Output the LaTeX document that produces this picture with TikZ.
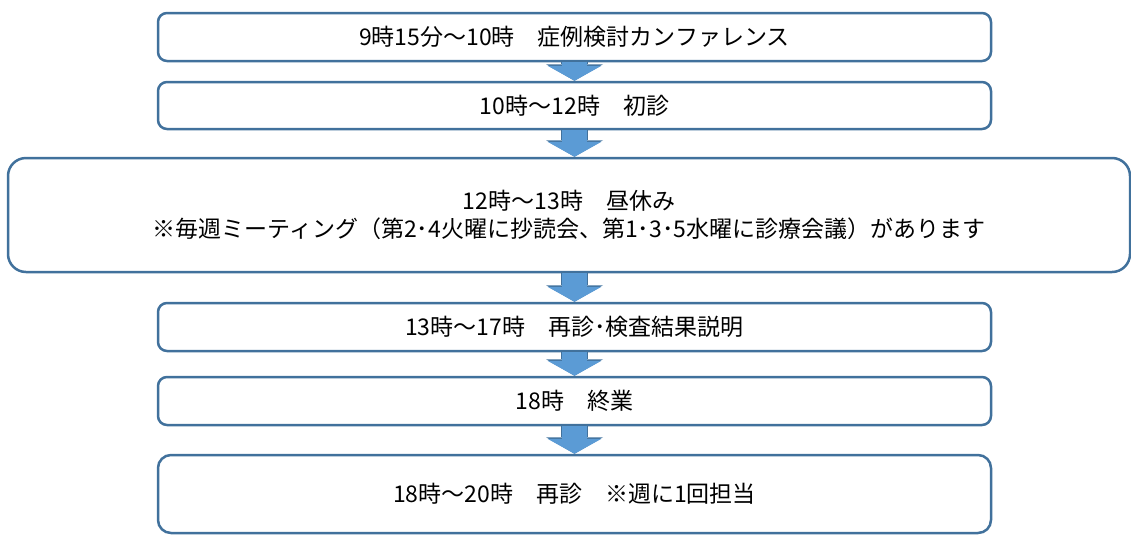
\documentclass[tikz,border=0pt]{standalone}
\usepackage{fontspec}
\setmainfont{Noto Sans CJK JP}
\usetikzlibrary{arrows.meta,positioning}

\definecolor{boxline}{RGB}{65,113,156}
\definecolor{arrowfill}{RGB}{91,155,213}

\begin{document}
\begin{tikzpicture}[x=1pt,y=-1pt,node distance=18.5pt]

\tikzstyle{every node}=[font=\fontsize{23}{28}\selectfont]
\tikzstyle{stepbox}=[draw=boxline,line width=2.5pt,fill=white,rounded corners=9pt,minimum width=833pt,minimum height=48pt,inner sep=0pt,align=center]
\tikzstyle{flow}=[draw=arrowfill,line width=25pt,-{Triangle[width=54pt,length=15pt,line width=0pt]},
  preaction={draw=boxline,line width=27pt,-{Triangle[width=57pt,length=16.5pt,line width=0pt]}}]

\useasboundingbox (0,0) rectangle (1131,536);

\node [stepbox] (conf) at (574.5,37) {9時15分～10時　症例検討カンファレンス};
\node [stepbox,minimum height=47pt] (first) [below=of conf] {10時～12時　初診};
\node [stepbox,minimum width=1122pt,minimum height=114pt,rounded corners=18pt] (lunch) [below=26.5pt of first,xshift=-5.5pt]
  {12時～13時　昼休み\\※毎週ミーティング（第2･4火曜に抄読会、第1･3･5水曜に診療会議）があります};
\node [stepbox] (revisit) [below=28.5pt of lunch,xshift=5.5pt] {13時～17時　再診･検査結果説明};
\node [stepbox] (close) [below=23.5pt of revisit] {18時　終業};
\node [stepbox,minimum height=78pt,rounded corners=13pt] (evening) [below=27.5pt of close] {18時～20時　再診　※週に1回担当};

\draw [flow] (conf) -- (first);
\draw [flow] (first.south) -- (first.south |- lunch.north);
\draw [flow] (lunch.south -| revisit.north) -- (revisit.north);
\draw [flow] (revisit) -- (close);
\draw [flow] (close) -- (evening);

\end{tikzpicture}
\end{document}
